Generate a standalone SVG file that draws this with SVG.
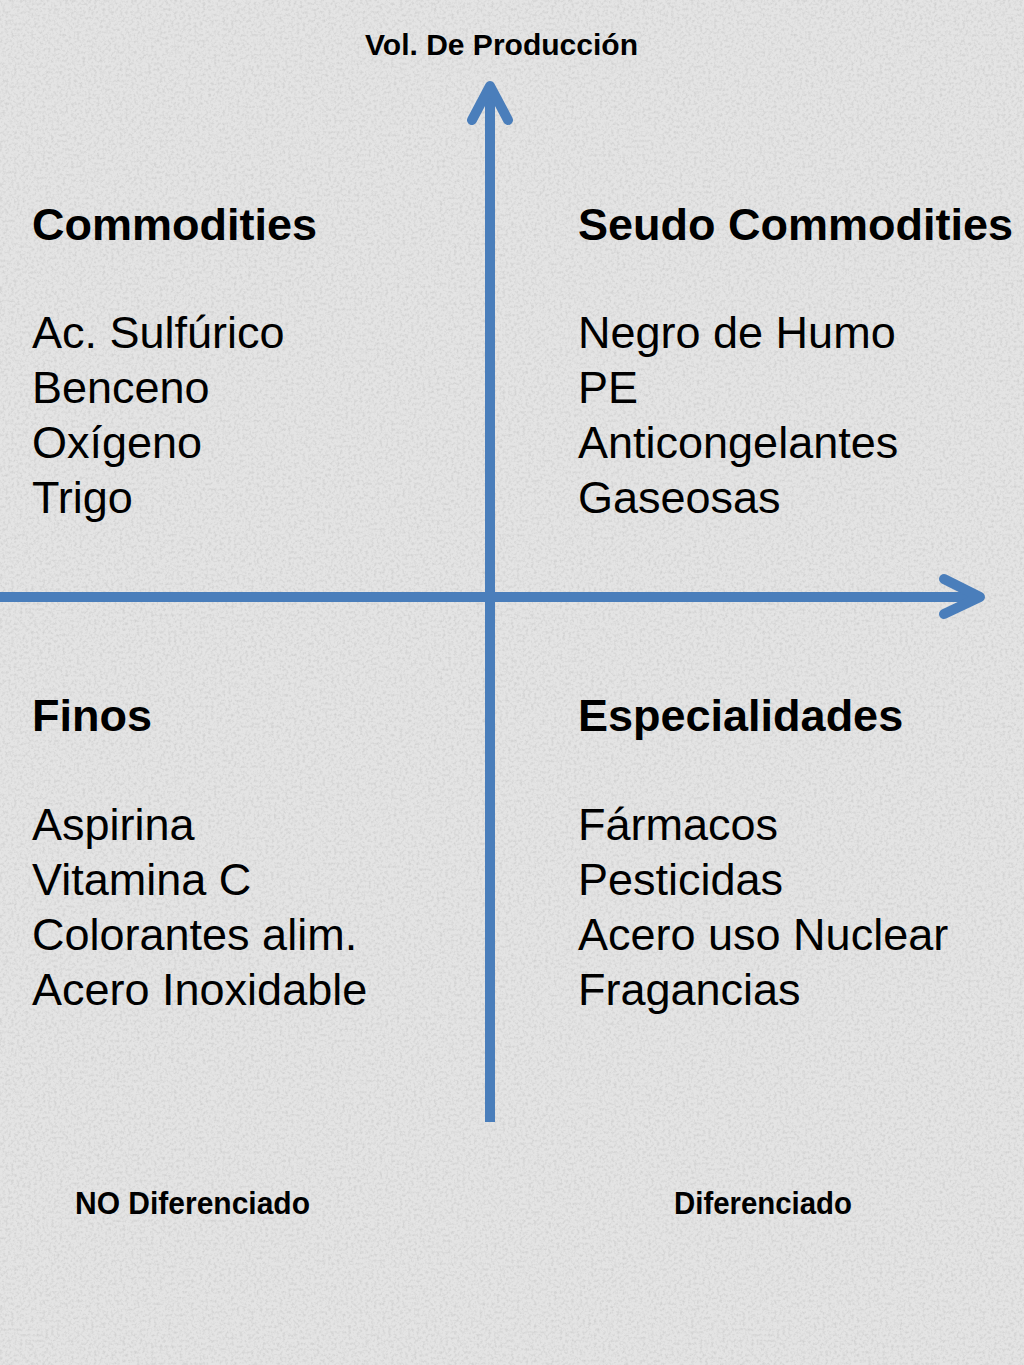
<svg xmlns="http://www.w3.org/2000/svg" width="1024" height="1365" viewBox="0 0 1024 1365">
  <defs>
    <filter id="grain" x="0" y="0" width="100%" height="100%">
      <feTurbulence type="fractalNoise" baseFrequency="0.35" numOctaves="3" seed="7" result="n"/>
      <feColorMatrix type="matrix" values="0 0 0 0 0.45  0 0 0 0 0.45  0 0 0 0 0.45  0 0 0 -2.2 1.25"/>
    </filter>
    <style>
      .hd { font-family: "Liberation Sans", Arial, sans-serif; font-weight: bold; font-size: 45px; fill: #000; }
      .it { font-family: "Liberation Sans", Arial, sans-serif; font-size: 45px; fill: #000; }
      .lb { font-family: "Liberation Sans", Arial, sans-serif; font-weight: bold; font-size: 29px; fill: #000; }
      .lb2 { font-family: "Liberation Sans", Arial, sans-serif; font-weight: bold; font-size: 31px; fill: #000; }
      .ax { stroke: #4a7ebb; stroke-width: 10; fill: none; stroke-linecap: round; stroke-linejoin: round; }
      .axl { stroke: #4a7ebb; stroke-width: 10; fill: none; stroke-linecap: butt; }
    </style>
  </defs>
  <rect id="background" x="0" y="0" width="1024" height="1365" fill="#e4e4e4"/>
  <rect x="0" y="0" width="1024" height="1365" filter="url(#grain)" opacity="0.4"/>

  <g id="connectors">
    <line class="axl" x1="490" y1="1122" x2="490" y2="86"/>
    <polyline class="ax" points="472,120 490,86 508,120"/>
    <line class="axl" x1="0" y1="597" x2="980" y2="597"/>
    <polyline class="ax" points="944,579 980,597 944,614"/>
  </g>

  <g id="axis-y-label">
    <text class="lb" x="365" y="55" textLength="273" lengthAdjust="spacingAndGlyphs">Vol. De Producción</text>
  </g>

  <g id="commodities">
    <text class="hd" x="32" y="240">Commodities</text>
    <text class="it" x="32" y="348">Ac. Sulfúrico</text>
    <text class="it" x="32" y="403">Benceno</text>
    <text class="it" x="32" y="458">Oxígeno</text>
    <text class="it" x="32" y="513">Trigo</text>
  </g>

  <g id="seudo-commodities">
    <text class="hd" x="578" y="240">Seudo Commodities</text>
    <text class="it" x="578" y="348">Negro de Humo</text>
    <text class="it" x="578" y="403">PE</text>
    <text class="it" x="578" y="458">Anticongelantes</text>
    <text class="it" x="578" y="513">Gaseosas</text>
  </g>

  <g id="finos">
    <text class="hd" x="32" y="731">Finos</text>
    <text class="it" x="32" y="840">Aspirina</text>
    <text class="it" x="32" y="895">Vitamina C</text>
    <text class="it" x="32" y="950">Colorantes alim.</text>
    <text class="it" x="32" y="1005">Acero Inoxidable</text>
  </g>

  <g id="especialidades">
    <text class="hd" x="578" y="731">Especialidades</text>
    <text class="it" x="578" y="840">Fármacos</text>
    <text class="it" x="578" y="895">Pesticidas</text>
    <text class="it" x="578" y="950">Acero uso Nuclear</text>
    <text class="it" x="578" y="1005">Fragancias</text>
  </g>

  <g id="axis-x-labels">
    <text class="lb2" x="75" y="1214" textLength="235" lengthAdjust="spacingAndGlyphs">NO Diferenciado</text>
    <text class="lb2" x="674" y="1214" textLength="178" lengthAdjust="spacingAndGlyphs">Diferenciado</text>
  </g>
</svg>
